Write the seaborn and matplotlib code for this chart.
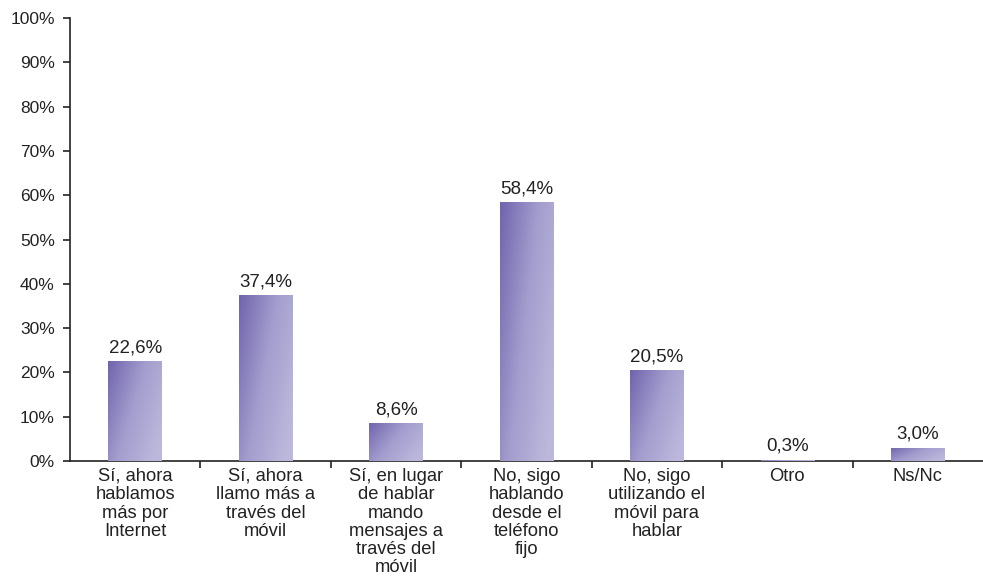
import numpy as np
import pandas as pd
import matplotlib
matplotlib.use("Agg")
import matplotlib.pyplot as plt
import seaborn as sns
from matplotlib.colors import LinearSegmentedColormap

categories = [
    "Sí, ahora\nhablamos\nmás por\nInternet",
    "Sí, ahora\nllamo más a\ntravés del\nmóvil",
    "Sí, en lugar\nde hablar\nmando\nmensajes a\ntravés del\nmóvil",
    "No, sigo\nhablando\ndesde el\nteléfono\nfijo",
    "No, sigo\nutilizando el\nmóvil para\nhablar",
    "Otro",
    "Ns/Nc",
]
values = [22.6, 37.4, 8.6, 58.4, 20.5, 0.3, 3.0]
value_labels = ["22,6%", "37,4%", "8,6%", "58,4%", "20,5%", "0,3%", "3,0%"]
yticks = [0, 10, 20, 30, 40, 50, 60, 70, 80, 90, 100]
ytick_labels = [f"{v}%" for v in yticks]

sns.set_style("white")
plt.rcParams['font.family'] = ['Liberation Sans', 'DejaVu Sans']

df = pd.DataFrame({"cat": categories, "val": values})

fig = plt.figure(figsize=(9.83, 5.76), dpi=100)
ax = fig.add_axes([70/983, 1-461/576, 1-70/983, (461-18)/576])

sns.barplot(data=df, x="cat", y="val", ax=ax, width=0.41, color="#8580bd",
            edgecolor="none", linewidth=0, zorder=3)

cmap = LinearSegmentedColormap.from_list("g", ["#7164ae", "#a29dcd", "#bcb8dc"])
uu, vv = np.meshgrid(np.linspace(0, 1, 60), np.linspace(0, 1, 200))
grad = np.clip(0.7 * uu + 0.4 * vv, 0, 1)  # vv: 0 at top

for p in ax.patches:
    x0, y0 = p.get_x(), p.get_y()
    w, h = p.get_width(), p.get_height()
    im = ax.imshow(grad, cmap=cmap, vmin=0, vmax=1, aspect="auto",
                   extent=[x0, x0 + w, y0, y0 + h], origin="upper",
                   interpolation="bilinear", zorder=3.1)
    im.set_clip_path(p)

for i, (v, lab) in enumerate(zip(values, value_labels)):
    ax.text(i, v + 1.1, lab, ha="center", va="bottom", fontsize=13.5, color="#222222")

ax.set_xlim(-0.5, len(categories) - 0.5)
ax.set_ylim(0, 100)
ax.set_yticks(yticks)
ax.set_yticklabels(ytick_labels, fontsize=12.5, color="#222222")
ax.set_xticks(range(len(categories)))
ax.set_xticklabels(categories, fontsize=13.2, color="#222222", linespacing=1.1)
ax.tick_params(axis="x", which="major", bottom=False, length=0, pad=5)
ax.set_xticks(np.arange(0.5, len(categories) - 0.5, 1), minor=True)
ax.tick_params(axis="x", which="minor", bottom=True, length=5, width=1.2,
               color="#222222", direction="out")
ax.tick_params(axis="y", left=True, length=5, width=1.2, color="#222222",
               direction="out", pad=6)
ax.set_xlabel("")
ax.set_ylabel("")

for s in ["top", "right"]:
    ax.spines[s].set_visible(False)
for s in ["left", "bottom"]:
    ax.spines[s].set_color("#222222")
    ax.spines[s].set_linewidth(1.2)
    ax.spines[s].set_zorder(2.5)

fig.savefig("out.png", dpi=100)
